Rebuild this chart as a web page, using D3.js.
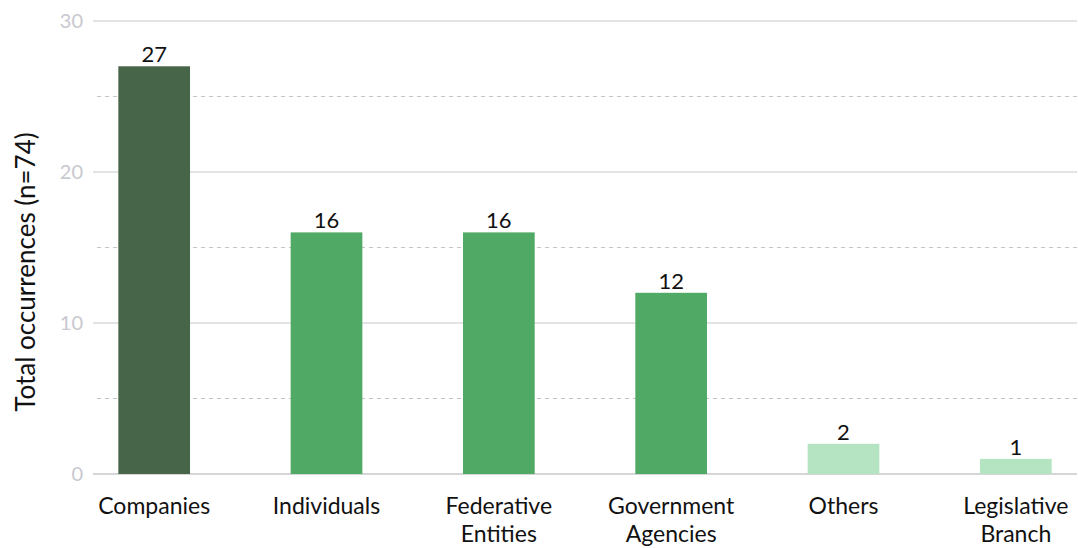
<!DOCTYPE html>
<html>
<head>
<meta charset="utf-8">
<script src="https://cdn.jsdelivr.net/npm/d3@7"></script>
<style>
  html, body { margin: 0; padding: 0; background: #fff; }
  svg { display: block; font-family: Lato, "Open Sans", sans-serif; }
</style>
</head>
<body>
<svg id="chart" width="1078" height="548"></svg>
<script>
// Occurrences by actor type
const categories = ["Companies", "Individuals", "Federative Entities", "Government Agencies", "Others", "Legislative Branch"];
const categoryLines = [["Companies"], ["Individuals"], ["Federative", "Entities"], ["Government", "Agencies"], ["Others"], ["Legislative", "Branch"]];
const values = [27, 16, 16, 12, 2, 1];
const barColors = ["#476548", "#50a964", "#50a964", "#50a964", "#b4e4c2", "#b4e4c2"];
const majorTicks = [0, 10, 20, 30];
const minorTicks = [5, 15, 25];

const svg = d3.select("#chart");
const plotLeft = 93, plotRight = 1077, plotTop = 21, plotBottom = 474;

const x = d3.scaleBand()
  .domain(categories)
  .range([plotLeft, plotRight])
  .paddingInner(0.584)
  .paddingOuter(0.147);

const y = d3.scaleLinear().domain([0, 30]).range([plotBottom, plotTop]);

// dashed minor gridlines
svg.append("g").selectAll("line").data(minorTicks).join("line")
  .attr("x1", plotLeft + 4).attr("x2", plotRight)
  .attr("y1", d => y(d)).attr("y2", d => y(d))
  .attr("stroke", "#c4c4c8").attr("stroke-width", 1)
  .attr("stroke-dasharray", "4,4");

// solid major gridlines
svg.append("g").selectAll("line").data(majorTicks).join("line")
  .attr("x1", plotLeft).attr("x2", plotRight)
  .attr("y1", d => y(d)).attr("y2", d => y(d))
  .attr("stroke", "#c8c8cc").attr("stroke-width", d => d === 0 ? 1.5 : 1);

// y tick labels
const yAxis = d3.axisLeft(y).tickValues(majorTicks).tickSize(0).tickPadding(10);
const gy = svg.append("g").attr("transform", `translate(${plotLeft},0)`).call(yAxis);
gy.select(".domain").remove();
gy.selectAll("text")
  .attr("fill", "#c8c8d0")
  .style("font-size", "20px")
  .style("font-family", "Lato, sans-serif");

// bars
svg.append("g").selectAll("rect").data(values).join("rect")
  .attr("x", (d, i) => x(categories[i]))
  .attr("width", x.bandwidth())
  .attr("y", d => y(d))
  .attr("height", d => y(0) - y(d))
  .attr("fill", (d, i) => barColors[i]);

// value labels
svg.append("g").selectAll("text").data(values).join("text")
  .attr("x", (d, i) => x(categories[i]) + x.bandwidth() / 2)
  .attr("y", d => y(d) - 4)
  .attr("text-anchor", "middle")
  .attr("fill", "#111")
  .style("font-size", "22px")
  .text(d => d);

// category labels
const cat = svg.append("g").selectAll("text").data(categories).join("text")
  .attr("x", d => x(d) + x.bandwidth() / 2)
  .attr("y", 514)
  .attr("text-anchor", "middle")
  .attr("fill", "#111")
  .style("font-size", "23px");
cat.each(function(d, i) {
  const t = d3.select(this);
  categoryLines[i].forEach((line, j) => {
    t.append("tspan")
      .attr("x", x(d) + x.bandwidth() / 2)
      .attr("dy", j === 0 ? 0 : 28)
      .text(line);
  });
});

// y axis title
svg.append("text")
  .attr("transform", "translate(35,272) rotate(-90)")
  .attr("text-anchor", "middle")
  .attr("fill", "#111")
  .style("font-size", "26px")
  .text("Total occurrences (n=74)");
</script>
</body>
</html>
